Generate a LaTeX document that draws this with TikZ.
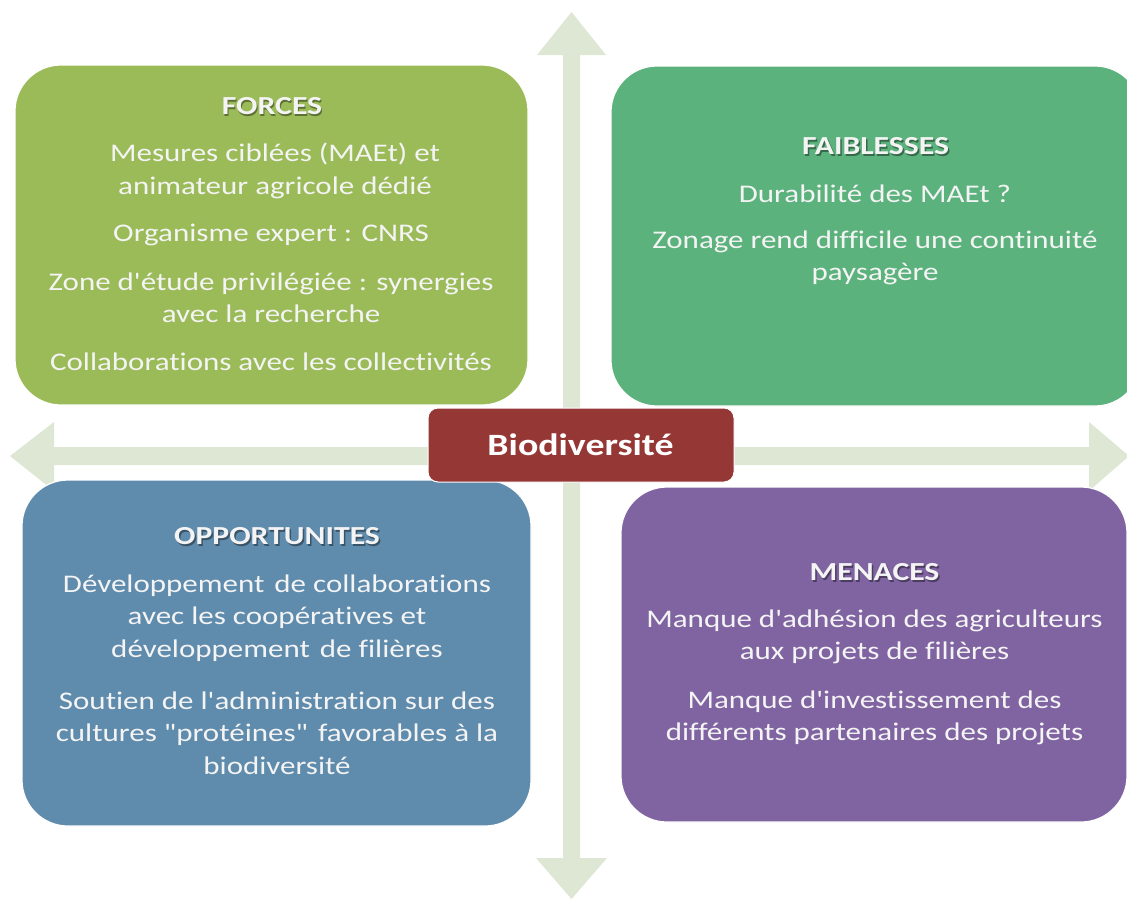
\documentclass[tikz,border=0pt]{standalone}
\usepackage{fontspec}
\setmainfont{Carlito}[FakeStretch=1.22, Ligatures={TeXOff,NoCommon}]
\definecolor{cforce}{HTML}{9BBB59}
\definecolor{cfaib}{HTML}{5CB27C}
\definecolor{copp}{HTML}{5F8BAD}
\definecolor{cmen}{HTML}{8064A2}
\definecolor{cbio}{HTML}{953735}
\definecolor{carrow}{HTML}{DDE7D3}
\definecolor{textw}{HTML}{F4F4F4}
\newcommand{\xsp}{\hspace{0.12em}}
\begin{document}
\begin{tikzpicture}[x=1pt,y=-1pt,
  box/.style={draw=white, line width=1.2pt, rounded corners=46pt, inner sep=0pt},
  txt/.style={text=textw, align=center, font=\fontsize{25.4}{32.5}\selectfont, inner sep=0pt},
  hdr/.style={text=textw, font=\bfseries\fontsize{26}{30}\selectfont, inner sep=0pt},
  hshadow/.style={text=black, opacity=0.4, font=\bfseries\fontsize{26}{30}\selectfont, inner sep=0pt},
  arrowfill/.style={fill=carrow, draw=none}]
\useasboundingbox (0,0) rectangle (1127,898);
% axes arrows
\fill[arrowfill] (563,55) -- (537,55) -- (571.5,12) -- (606,55) -- (580,55)
  -- (580,858) -- (607,858) -- (571.5,899) -- (536,858) -- (563,858) -- cycle;
\fill[arrowfill] (54,447) -- (54,422) -- (10,456) -- (54,491) -- (54,465)
  -- (1089,465) -- (1089,491) -- (1129,456) -- (1089,422) -- (1089,447) -- cycle;
% boxes
\node[box, fill=cforce, minimum width=513pt, minimum height=340pt] (forces) at (271.5,235) {};
\node[box, fill=cfaib, minimum width=530pt, minimum height=340pt] (faib) at (876,236) {};
\node[box, fill=copp, minimum width=509pt, minimum height=346pt] (opp) at (276.5,653) {};
\node[box, fill=cmen, minimum width=506pt, minimum height=335pt] (men) at (874,654.5) {};
\node[draw=white, line width=1pt, fill=cbio, rounded corners=10pt, minimum width=306pt, minimum height=74pt] (bio) at (581,445) {};
\node[text=white, font=\bfseries\fontsize{31}{36}\selectfont, inner sep=0pt] (biot) at (580.5,445) {Biodiversité};
% FORCES
\node[hshadow] at (273,108) {FORCES};
\node[hdr] (fh) at (272,106) {FORCES};
\node[txt] (f1) at (275,171) {Mesures ciblées (MAEt) et\\animateur agricole dédié};
\node[txt] (f2) at (271,235) {Organisme expert : CNRS};
\node[txt] (f3) at (271,298) {Zone d'étude privilégiée : synergies\\avec la recherche};
\node[txt] (f4) at (271,362) {Collaborations avec les collectivités};
% FAIBLESSES
\node[hshadow] at (877,148) {FAIBLESSES};
\node[hdr] (wh) at (875.5,146) {FAIBLESSES};
\node[txt] (w1) at (875,194) {Durabilité des MAEt ?};
\node[txt] (w2) at (875,258) {Zonage rend difficile une continuité\\paysagère};
% OPPORTUNITES
\node[hshadow] at (278.5,538) {OPPORTUNITES};
\node[hdr] (oh) at (277,536) {OPPORTUNITES};
\node[txt] (o1) at (277,618) {Développement\xsp{} de collaborations\\avec les coopératives et\\développement\xsp{} de filières};
\node[txt] (o2) at (277,733) {Soutien de l'administration sur des\\cultures "protéines"\xsp{} favorables à la\\biodiversité};
% MENACES
\node[hshadow] at (876,574) {MENACES};
\node[hdr] (mh) at (874.5,572) {MENACES};
\node[txt] (m1) at (874.5,637) {Manque d'adhésion des agriculteurs\\aux projets de filières};
\node[txt] (m2) at (874.5,718) {Manque d'investissement des\\différents partenaires des projets};
\end{tikzpicture}
\end{document}
